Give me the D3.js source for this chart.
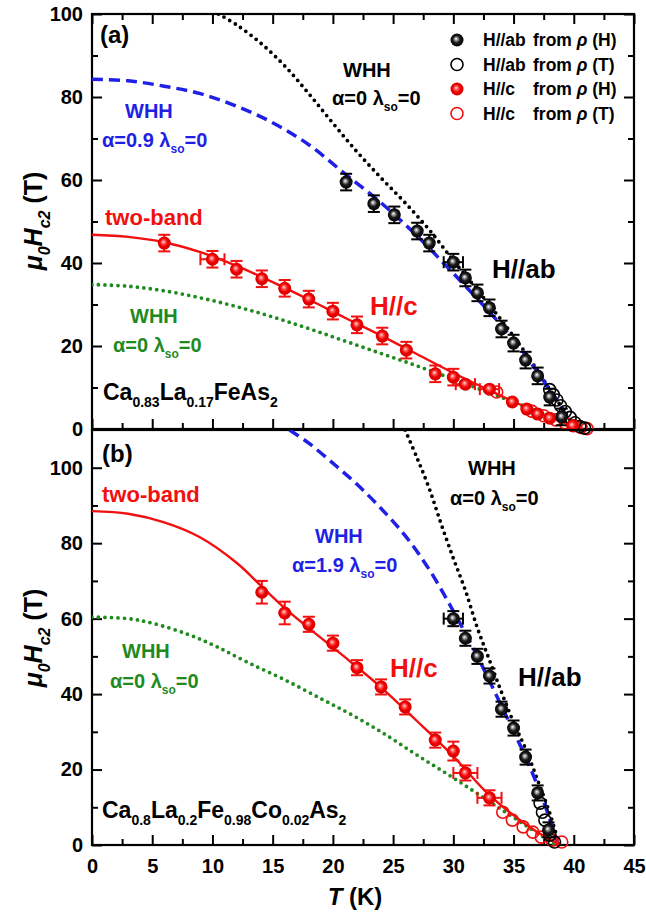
<!DOCTYPE html>
<html>
<head>
<meta charset="utf-8">
<script src="https://cdn.jsdelivr.net/npm/d3@7/dist/d3.min.js"></script>
<style>
  body { margin: 0; background: #fff; }
  text { font-family: "Liberation Sans", Arial, sans-serif; font-weight: bold; }
</style>
</head>
<body>
<div id="chart"></div>
<script>
// ---- data ----
// points are [T, H, dH, dT]
// (a) Ca0.83La0.17FeAs2
var abH_a = [[21.1,59.5,2,0],[23.4,54.3,2,0],[25.1,51.6,2,0],[27,47.7,2,0],[28,44.8,2,0],[30,40.2,2,0.8],
  [31,36.4,2,0],[32,32.8,2,0],[33,29.2,2,0],[34,24.1,2,0],[35,20.7,2,0],[36,16.6,2,0],[37,12.8,2,0],[38,7.7,2,0],[39,2.9,2,0]];
var abT_a = [[38,9.5],[38.3,8.3],[38.6,7],[38.9,5.6],[39.3,4.2],[39.7,2.8],[40.1,1.5],[40.5,0.6],[40.9,0.2]];
var cH_a = [[6,44.8,2,0],[10,40.9,2,1],[12,38.5,2,0],[14.1,36.2,2,0],[16,33.9,2,0],[18,31.3,2,0],[20,28.4,2,0],
  [22,25.1,2,0],[24.1,22.4,2,0],[26.1,19,2,0],[28.5,13.3,2,0],[30,12.5,2,0],[31,10.8,0,0.8],[33,9.6,0,0.8],
  [34.9,6.5,0,0],[36.1,4.8,0,0],[37,3.6,0,0],[38,2.6,0,0],[39.9,0.8,0,0]];
var cT_a = [[33.6,8.9],[36.5,4.3],[37.5,3.2],[38.5,2.2],[39.3,1.4],[40,0.8],[40.6,0.4],[41.1,0.1]];
var whhAb_a = [[10.5,100],[12,97.4],[14,93],[16,87.5],[18,80.8],[20,73.7],[22,66.8],[24,60.5],[26,54.5],
  [28,48],[30,40.6],[32,33.5],[34,26.2],[36,18.3],[38,9.6],[40.2,0]];
var whhSo_a = [[0,84.3],[3,83.9],[6,82.6],[9,80.8],[12,77.8],[15,73.8],[18,68.5],[21,61.5],[24,54.5],
  [27,46.5],[30,37.5],[33,28.2],[35,21.5],[37,13.7],[39,5],[40,0.5]];
var twoBand_a = [[0,46.8],[3,46.3],[6,45],[9,42.6],[12,39.3],[15,35.4],[18,31.2],[21,26.8],[24,22.5],
  [27,18],[30,13.5],[33,9.3],[36,5.3],[38,2.8],[40.8,0]];
var whhC_a = [[0,34.8],[3,34.4],[6,33.3],[9,31.6],[12,29.5],[15,27],[18,24.2],[21,21.2],[24,18.2],
  [27,15.2],[30,12],[33,8.7],[36,5.4],[39,2],[40.5,0]];

// (b) Ca0.8La0.2Fe0.98Co0.02As2
var abH_b = [[30,60,2,0.8],[31,54.8,2,0],[32,50,2,0],[33,44.8,2,0],[34,36,2,0],[35,31,2,0],[36,23.3,2,0],[37,13.8,2,0],[37.9,4,2,0]];
var abT_b = [[37.2,11.1],[37.4,8.7],[37.6,6.6],[38,2.6],[38.4,0.8]];
var cH_b = [[14.1,67,3,0],[16,61.5,3,0],[18,58.5,2,0],[20,53.5,2,0],[22,47,2,0],[24,41.9,2,0],[26,36.6,2,0],
  [28.5,27.8,2,0],[30,24.9,2.5,0],[31,19.1,2,1],[33,12.5,2,1]];
var cT_b = [[34.1,8.7],[34.9,6.6],[35.8,4.8],[36.6,3.4],[37.3,2.1],[38.2,1.3],[39,0.8]];
var whhAb_b = [[26,110],[27,102.5],[28,94.5],[29,85],[30,76],[31,67.5],[32,57.5],[33,49],[34,40.5],
  [35,32.5],[36,25.5],[37,17.2],[38,8.5],[38.8,0]];
var whhSo_b = [[16.4,110],[18,106.5],[20,101.2],[22,95.6],[24,89.2],[26,82],[28,73],[30,62],[32,50],
  [34,36.8],[36,23.3],[37.5,11.5],[38.7,0]];
var twoBand_b = [[0,88.5],[3,87.8],[6,85.5],[9,81.5],[12,74.8],[14,68.8],[16,62.8],[18,57.5],[21,49.8],
  [24,41.8],[27,32.8],[30,23.5],[33,13.2],[36,5.5],[38,1.5],[39,0]];
var whhC_b = [[0,60.4],[3,60],[5,58.8],[8,55.8],[10.4,52.5],[13,48.3],[16,43.8],[19,38.8],[21.4,34.8],
  [24,30],[27,23.8],[30,17.8],[33,11.5],[36,5.2],[38.5,0]];

var xTicks = [0,5,10,15,20,25,30,35,40,45];
var xMinor = [2.5,7.5,12.5,17.5,22.5,27.5,32.5,37.5,42.5];
var yTicks_a = [0,20,40,60,80,100];
var yMinor_a = [10,30,50,70,90];
var yTicks_b = [0,20,40,60,80,100];
var yMinor_b = [10,30,50,70,90];

// ---- drawing ----
var W = 646, H = 912;
var svg = d3.select('#chart').append('svg').attr('width', W).attr('height', H);

var blue = '#1f1fe6', red = '#f20f0f', green = '#1f8a1f';

var defs = svg.append('defs');
function sphere(id, stops) {
    var g = defs.append('radialGradient').attr('id', id)
        .attr('cx', '50%').attr('cy', '50%').attr('r', '55%').attr('fx', '42%').attr('fy', '40%');
    stops.forEach(function (s) {
        g.append('stop').attr('offset', s[0]).attr('stop-color', s[1]);
    });
}
sphere('ballBlack', [['0%', '#ffffff'], ['22%', '#9a9a9a'], ['50%', '#1a1a1a'], ['100%', '#000']]);
sphere('ballRed', [['0%', '#ffe0e0'], ['25%', '#ff6060'], ['55%', '#f00000'], ['100%', '#d00000']]);

var x = d3.scaleLinear().domain([0, 45]).range([92, 634]);
var ya = d3.scaleLinear().domain([0, 100]).range([429, 14]);
var yb = d3.scaleLinear().domain([0, 110]).range([845, 430]);

function noDomain(s) { s.select('.domain').remove(); }

function frame(y, major, minor, withTop, withLabels, clipId) {
    var g = svg.append('g');
    var top = y.range()[1], bot = y.range()[0];
    defs.append('clipPath').attr('id', clipId).append('rect')
        .attr('x', 92).attr('y', top).attr('width', 542).attr('height', bot - top);

    // left
    g.append('g').attr('transform', 'translate(92,0)')
        .call(d3.axisLeft(y).tickValues(major).tickSize(-10).tickPadding(9)).call(noDomain);
    g.append('g').attr('transform', 'translate(92,0)')
        .call(d3.axisLeft(y).tickValues(minor).tickSize(-6).tickFormat('')).call(noDomain);
    // right
    g.append('g').attr('transform', 'translate(634,0)')
        .call(d3.axisRight(y).tickValues(major).tickSize(-10).tickFormat('')).call(noDomain);
    g.append('g').attr('transform', 'translate(634,0)')
        .call(d3.axisRight(y).tickValues(minor).tickSize(-6).tickFormat('')).call(noDomain);
    // bottom
    var bx = d3.axisBottom(x).tickValues(xTicks).tickSize(-10).tickPadding(14);
    if (!withLabels) bx.tickFormat('');
    g.append('g').attr('transform', 'translate(0,' + bot + ')').call(bx).call(noDomain);
    g.append('g').attr('transform', 'translate(0,' + bot + ')')
        .call(d3.axisBottom(x).tickValues(xMinor).tickSize(-6).tickFormat('')).call(noDomain);
    if (withTop) {
        g.append('g').attr('transform', 'translate(0,' + top + ')')
            .call(d3.axisTop(x).tickValues(xTicks).tickSize(-10).tickFormat('')).call(noDomain);
        g.append('g').attr('transform', 'translate(0,' + top + ')')
            .call(d3.axisTop(x).tickValues(xMinor).tickSize(-6).tickFormat('')).call(noDomain);
    }
    g.selectAll('.tick line').attr('stroke', '#000').attr('stroke-width', 2);
    g.selectAll('.tick text').attr('fill', '#000').style('font-size', '20px');
    g.selectAll('g').attr('font-family', null);
    g.append('rect').attr('x', 92).attr('y', top).attr('width', 542).attr('height', bot - top)
        .attr('fill', 'none').attr('stroke', '#000').attr('stroke-width', 2.2);
}

function curve(y, data, color, kind, clipId) {
    var line = d3.line().x(function (d) { return x(d[0]); }).y(function (d) { return y(d[1]); })
        .curve(d3.curveCatmullRom);
    var p = svg.append('path').datum(data).attr('d', line)
        .attr('fill', 'none').attr('stroke', color).attr('clip-path', 'url(#' + clipId + ')');
    if (kind === 'dash') p.attr('stroke-width', 3.5).attr('stroke-dasharray', '11,6');
    else if (kind === 'dot') p.attr('stroke-width', 3.8).attr('stroke-dasharray', '0,6.5').attr('stroke-linecap', 'round');
    else p.attr('stroke-width', 2.4);
}

function errorBars(y, data, color) {
    var g = svg.append('g').attr('stroke', color).attr('stroke-width', 2).attr('fill', 'none');
    data.forEach(function (d) {
        if (d[2] > 0) {
            var y1 = y(d[1] + d[2]), y2 = y(d[1] - d[2]), cx = x(d[0]);
            g.append('line').attr('x1', cx).attr('x2', cx).attr('y1', y1).attr('y2', y2);
            g.append('line').attr('x1', cx - 6).attr('x2', cx + 6).attr('y1', y1).attr('y2', y1);
            g.append('line').attr('x1', cx - 6).attr('x2', cx + 6).attr('y1', y2).attr('y2', y2);
        }
        if (d[3] > 0) {
            var x1 = x(d[0] - d[3]), x2 = x(d[0] + d[3]), cy = y(d[1]);
            g.append('line').attr('x1', x1).attr('x2', x2).attr('y1', cy).attr('y2', cy);
            g.append('line').attr('x1', x1).attr('x2', x1).attr('y1', cy - 6).attr('y2', cy + 6);
            g.append('line').attr('x1', x2).attr('x2', x2).attr('y1', cy - 6).attr('y2', cy + 6);
        }
    });
}

function balls(y, data, grad) {
    svg.append('g').selectAll('circle').data(data).enter().append('circle')
        .attr('cx', function (d) { return x(d[0]); })
        .attr('cy', function (d) { return y(d[1]); })
        .attr('r', 6.5).attr('fill', 'url(#' + grad + ')');
}

function rings(y, data, color) {
    svg.append('g').selectAll('circle').data(data).enter().append('circle')
        .attr('cx', function (d) { return x(d[0]); })
        .attr('cy', function (d) { return y(d[1]); })
        .attr('r', 6).attr('fill', 'none').attr('stroke', color).attr('stroke-width', 1.6);
}

// text helper: parts are [string, 'sub'|'it'|'itsub'|null]
function label(px, py, parts, color, size, subScale) {
    subScale = subScale || 0.62;
    var t = svg.append('text').attr('x', px).attr('y', py).attr('fill', color).style('font-size', size + 'px');
    var shift = 0;
    parts.forEach(function (p) {
        var s = t.append('tspan').text(p[0]);
        var sub = p[1] === 'sub' || p[1] === 'itsub';
        var want = sub ? Math.round(size * 0.3) : 0;
        if (want !== shift) { s.attr('dy', want - shift); shift = want; }
        if (sub) s.style('font-size', Math.round(size * subScale) + 'px');
        if (p[1] === 'it' || p[1] === 'itsub') s.style('font-style', 'italic');
    });
    return t;
}

// panel (a)
frame(ya, yTicks_a, yMinor_a, true, false, 'clipA');
curve(ya, whhAb_a, '#000', 'dot', 'clipA');
curve(ya, whhSo_a, blue, 'dash', 'clipA');
curve(ya, whhC_a, green, 'dot', 'clipA');
curve(ya, twoBand_a, red, 'solid', 'clipA');
rings(ya, cT_a, red);
rings(ya, abT_a, '#000');
errorBars(ya, cH_a, red);
errorBars(ya, abH_a, '#000');
balls(ya, cH_a, 'ballRed');
balls(ya, abH_a, 'ballBlack');

// panel (b)
frame(yb, yTicks_b, yMinor_b, false, true, 'clipB');
curve(yb, whhAb_b, '#000', 'dot', 'clipB');
curve(yb, whhSo_b, blue, 'dash', 'clipB');
curve(yb, whhC_b, green, 'dot', 'clipB');
curve(yb, twoBand_b, red, 'solid', 'clipB');
rings(yb, cT_b, red);
rings(yb, abT_b, '#000');
errorBars(yb, cH_b, red);
errorBars(yb, abH_b, '#000');
balls(yb, cH_b, 'ballRed');
balls(yb, abH_b, 'ballBlack');

// legend
var legend = [['H//ab', 'ballBlack', null], ['H//ab', null, '#000'], ['H//c', 'ballRed', null], ['H//c', null, red]];
var legendSrc = ['H', 'T', 'H', 'T'];
legend.forEach(function (l, i) {
    var cy = 40 + i * 24.5;
    if (l[1]) svg.append('circle').attr('cx', 457).attr('cy', cy).attr('r', 6.5).attr('fill', 'url(#' + l[1] + ')');
    else svg.append('circle').attr('cx', 457).attr('cy', cy).attr('r', 6).attr('fill', 'none').attr('stroke', l[2]).attr('stroke-width', 1.6);
    label(483, cy + 6, [[l[0], null]], '#000', 17.5);
    label(533, cy + 6, [['from ', null], ['\u03c1', 'it'], [' (' + legendSrc[i] + ')', null]], '#000', 17.5);
});

// annotations (a)
label(100, 43, [['(a)', null]], '#000', 24);
label(343, 77, [['WHH', null]], '#000', 20);
label(332, 105, [['\u03b1=0 \u03bb', null], ['so', 'sub'], ['=0', null]], '#000', 20);
label(125, 118, [['WHH', null]], blue, 20);
label(102, 147, [['\u03b1=0.9 \u03bb', null], ['so', 'sub'], ['=0', null]], blue, 20);
label(105, 225, [['two-band', null]], red, 22);
label(130, 323, [['WHH', null]], green, 20);
label(113, 352, [['\u03b1=0 \u03bb', null], ['so', 'sub'], ['=0', null]], green, 20);
label(103, 400, [['Ca', null], ['0.83', 'sub'], ['La', null], ['0.17', 'sub'], ['FeAs', null], ['2', 'sub']], '#000', 23, 0.6);
label(370, 315, [['H//c', null]], red, 26);
label(492, 278, [['H//ab', null]], '#000', 26);

// annotations (b)
label(102, 462, [['(b)', null]], '#000', 24);
label(102, 502, [['two-band', null]], red, 22);
label(315, 543, [['WHH', null]], blue, 20);
label(292, 572, [['\u03b1=1.9 \u03bb', null], ['so', 'sub'], ['=0', null]], blue, 20);
label(468, 475, [['WHH', null]], '#000', 20);
label(450, 505, [['\u03b1=0 \u03bb', null], ['so', 'sub'], ['=0', null]], '#000', 20);
label(122, 658, [['WHH', null]], green, 20);
label(110, 688, [['\u03b1=0 \u03bb', null], ['so', 'sub'], ['=0', null]], green, 20);
label(102, 818, [['Ca', null], ['0.8', 'sub'], ['La', null], ['0.2', 'sub'], ['Fe', null], ['0.98', 'sub'],
    ['Co', null], ['0.02', 'sub'], ['As', null], ['2', 'sub']], '#000', 23, 0.6);
label(390, 677, [['H//c', null]], red, 26);
label(518, 686, [['H//ab', null]], '#000', 26);

// axis titles
[221, 638].forEach(function (cy) {
    label(0, 0, [['\u03bc', 'it'], ['0', 'itsub'], ['H', 'it'], ['c2', 'itsub'], [' (T)', null]], '#000', 25)
        .attr('text-anchor', 'middle')
        .attr('transform', 'translate(42,' + cy + ') rotate(-90)');
});
label(0, 0, [['T', 'it'], [' (K)', null]], '#000', 24)
    .attr('text-anchor', 'middle').attr('transform', 'translate(355,905)');
</script>
</body>
</html>
